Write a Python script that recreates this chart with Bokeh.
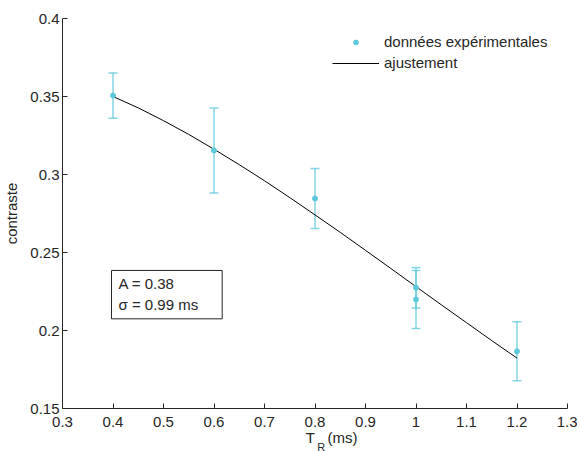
from bokeh.plotting import figure
from bokeh.models import (ColumnDataSource, Whisker, TeeHead, Label, Legend,
                          LegendItem, FixedTicker, Range1d, LinearAxis)
from bokeh.embed import file_html
from bokeh.resources import INLINE

# ---- data ----
t_r = [0.4, 0.6, 0.8, 1.0, 1.0, 1.2]
contrast = [0.3506, 0.3154, 0.2846, 0.2274, 0.2199, 0.1867]
contrast_err = [0.0145, 0.0272, 0.0192, 0.0130, 0.0186, 0.0189]

fit_t = [0.4, 0.45, 0.5, 0.55, 0.6, 0.65, 0.7, 0.75, 0.8, 0.85, 0.9, 0.95,
         1.0, 1.05, 1.1, 1.15, 1.2]
fit_c = [0.3500, 0.3427, 0.3345, 0.3257, 0.3162, 0.3063, 0.2960, 0.2852,
         0.2741, 0.2629, 0.2514, 0.2398, 0.2281, 0.2165, 0.2050, 0.1935, 0.1823]

x_ticks = [0.3, 0.4, 0.5, 0.6, 0.7, 0.8, 0.9, 1.0, 1.1, 1.2, 1.3]
x_tick_labels = ["0.3", "0.4", "0.5", "0.6", "0.7", "0.8", "0.9", "1", "1.1", "1.2", "1.3"]
y_ticks = [0.15, 0.2, 0.25, 0.3, 0.35, 0.4]
y_tick_labels = ["0.15", "0.2", "0.25", "0.3", "0.35", "0.4"]

fit_params = "A = 0.38\nσ = 0.99 ms"
x_title_main, x_title_unit, x_title_sub = "T", "(ms)", "R"   # T_R (ms)

FONT = "Liberation Sans"
AX = "#262626"
CYAN = "#5cc8dc"
NBSP = "\u00a0"

X_MIN, X_MAX = 0.3, 1.3
Y_MIN, Y_MAX = 0.15, 0.4

p = figure(frame_width=505, frame_height=390, output_backend="svg",
           toolbar_location=None,
           x_range=Range1d(X_MIN, X_MAX), y_range=Range1d(Y_MIN, Y_MAX),
           min_border_left=57, min_border_top=18, min_border_right=10,
           min_border_bottom=0)
p.outline_line_color = None
p.xgrid.visible = False
p.ygrid.visible = False
p.background_fill_color = "white"
p.border_fill_color = "white"

for ax in (p.xaxis[0], p.yaxis[0]):
    ax.axis_line_color = AX
    ax.major_tick_line_color = AX
    ax.minor_tick_line_color = None
    ax.major_tick_in = 5
    ax.major_tick_out = 0
    ax.major_label_text_font = FONT
    ax.major_label_text_font_size = "15px"
    ax.major_label_text_color = AX
    ax.axis_label_text_font = FONT
    ax.axis_label_text_font_size = "15px"
    ax.axis_label_text_font_style = "normal"
    ax.axis_label_text_color = AX

xa = p.xaxis[0]
xa.ticker = FixedTicker(ticks=x_ticks)
xa.major_label_overrides = {t: l for t, l in zip(x_ticks, x_tick_labels)}
xa.major_label_standoff = 8

ya = p.yaxis[0]
ya.ticker = FixedTicker(ticks=y_ticks)
ya.major_label_overrides = {t: l for t, l in zip(y_ticks, y_tick_labels)}
ya.major_label_standoff = 3
ya.axis_label = "contraste"
ya.axis_label_standoff = 7


# x title: label-only axes stacked under the x axis (subscript on its own row)
def title_axis(text, size, standoff):
    axis = LinearAxis(ticker=FixedTicker(ticks=[], minor_ticks=[]),
                      axis_line_color=None,
                      major_tick_in=0, major_tick_out=0,
                      minor_tick_in=0, minor_tick_out=0,
                      major_label_standoff=0,
                      axis_label=text, axis_label_standoff=standoff,
                      axis_label_text_font=FONT, axis_label_text_font_size=size,
                      axis_label_text_font_style="normal",
                      axis_label_text_color=AX)
    p.add_layout(axis, "below")


title_axis(NBSP * 8 + x_title_main + NBSP * 3 + x_title_unit, "15px", -1)
title_axis(NBSP * 4 + x_title_sub, "11px", -8)

src = ColumnDataSource(dict(
    x=t_r, y=contrast,
    upper=[c + e for c, e in zip(contrast, contrast_err)],
    lower=[c - e for c, e in zip(contrast, contrast_err)],
))

wh = Whisker(source=src, base="x", upper="upper", lower="lower",
             dimension="height", line_color=CYAN, line_width=1.5, line_alpha=0.75,
             upper_head=TeeHead(size=9, line_color=CYAN, line_width=1.5, line_alpha=0.75),
             lower_head=TeeHead(size=9, line_color=CYAN, line_width=1.5, line_alpha=0.75))
p.add_layout(wh)

fit = p.line(fit_t, fit_c, line_color="black", line_width=1)
pts = p.scatter("x", "y", source=src, size=5, color=CYAN, line_color=CYAN)

legend = Legend(items=[LegendItem(label="données expérimentales", renderers=[pts]),
                       LegendItem(label="ajustement", renderers=[fit])],
                location=(270, 335), padding=0, margin=0,
                spacing=0, glyph_width=47, glyph_height=12, label_height=21,
                label_standoff=5, border_line_color=None,
                background_fill_alpha=0,
                label_text_font=FONT, label_text_font_size="15px",
                label_text_color=AX)
p.add_layout(legend)

box = Label(x=0.397, y=0.2385, text=fit_params, anchor="top_left",
            text_font=FONT, text_font_size="15px", text_color=AX,
            border_line_color=AX, border_line_width=1,
            background_fill_color="white",
            padding=dict(left=7, right=24, top=5, bottom=6))
p.add_layout(box)

open("out.html", "w").write(file_html(p, INLINE))
